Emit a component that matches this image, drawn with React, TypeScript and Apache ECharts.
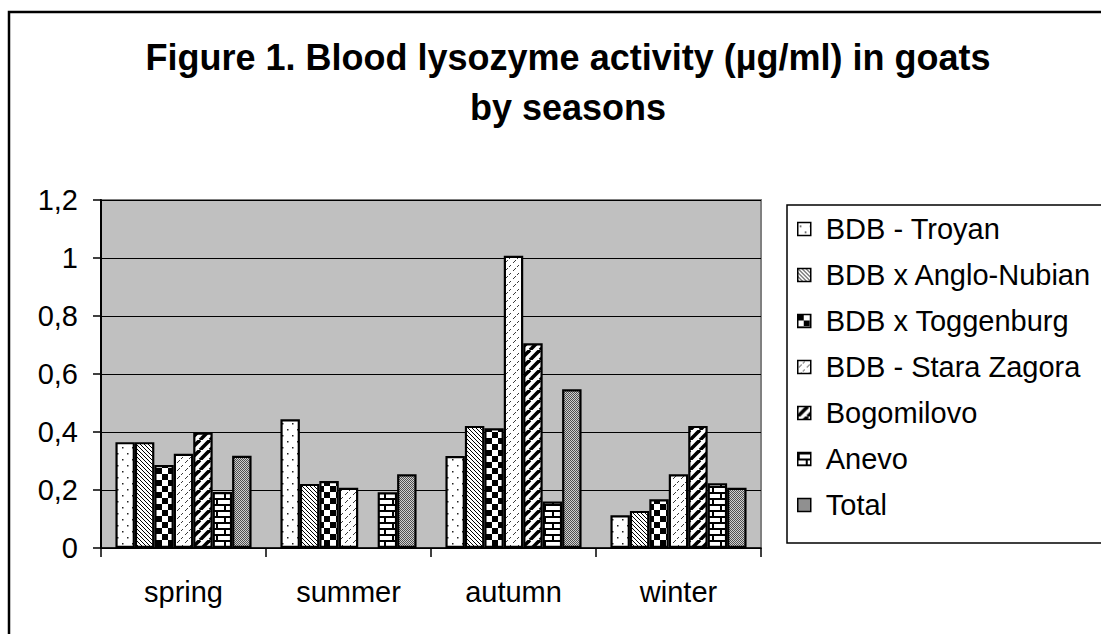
import React, { useEffect, useRef } from "react";
import * as echarts from "echarts";

const seasons = ["spring", "summer", "autumn", "winter"];
const seriesNames = [
  "BDB - Troyan",
  "BDB x Anglo-Nubian",
  "BDB x Toggenburg",
  "BDB - Stara Zagora",
  "Bogomilovo",
  "Anevo",
  "Total",
];
const troyan = [0.365, 0.444, 0.317, 0.113];
const angloNubian = [0.365, 0.221, 0.421, 0.128];
const toggenburg = [0.286, 0.231, 0.413, 0.168];
const staraZagora = [0.325, 0.208, 1.008, 0.254];
const bogomilovo = [0.398, null, 0.706, 0.421];
const anevo = [0.193, 0.192, 0.16, 0.223];
const total = [0.318, 0.254, 0.547, 0.208];
const seriesValues = [troyan, angloNubian, toggenburg, staraZagora, bogomilovo, anevo, total];
const yTicks = { min: 0, max: 1.2, interval: 0.2 };

function makeTile(w: number, h: number, draw: (ctx: CanvasRenderingContext2D) => void) {
  const c = document.createElement("canvas");
  c.width = w;
  c.height = h;
  const ctx = c.getContext("2d")!;
  ctx.fillStyle = "#ffffff";
  ctx.fillRect(0, 0, w, h);
  draw(ctx);
  return c;
}

function makePatterns() {
  const dots = makeTile(10, 12, (ctx) => {
    ctx.fillStyle = "#222";
    ctx.fillRect(2, 3, 1.5, 1.5);
    ctx.fillRect(7, 9, 1.5, 1.5);
  });
  const backslash = makeTile(4, 4, (ctx) => {
    ctx.fillStyle = "#000";
    for (let i = 0; i < 4; i++) ctx.fillRect(i, i, 1, 1);
  });
  const checker = makeTile(12, 12, (ctx) => {
    ctx.fillStyle = "#000";
    ctx.fillRect(0, 0, 6, 6);
    ctx.fillRect(6, 6, 6, 6);
  });
  const dashed = makeTile(8, 8, (ctx) => {
    ctx.fillStyle = "#3a3a3a";
    ctx.fillRect(1, 6, 1, 1);
    ctx.fillRect(2, 5, 1, 1);
    ctx.fillRect(3, 4, 1, 1);
    ctx.fillRect(5, 2, 1, 1);
    ctx.fillRect(6, 1, 1, 1);
  });
  const wide = makeTile(10, 10, (ctx) => {
    ctx.strokeStyle = "#000";
    ctx.lineWidth = 3.6;
    for (const o of [-10, 0, 10]) {
      ctx.beginPath();
      ctx.moveTo(o, 10);
      ctx.lineTo(o + 10, 0);
      ctx.stroke();
    }
  });
  const bricks = makeTile(16, 12, (ctx) => {
    ctx.fillStyle = "#000";
    ctx.fillRect(0, 0, 16, 2);
    ctx.fillRect(0, 6, 16, 2);
    ctx.fillRect(0, 0, 2, 6);
    ctx.fillRect(8, 6, 2, 6);
  });
  const stipple = makeTile(2, 2, (ctx) => {
    ctx.fillStyle = "#d0d0d0";
    ctx.fillRect(0, 0, 2, 2);
    ctx.fillStyle = "#505050";
    ctx.fillRect(0, 0, 1, 1);
    ctx.fillRect(1, 1, 1, 1);
  });
  return [dots, backslash, checker, dashed, wide, bricks, stipple];
}

export default function App() {
  const ref = useRef<HTMLDivElement>(null);
  useEffect(() => {
    if (!ref.current) return;
    const chart = echarts.init(ref.current, undefined, { renderer: "svg" });
    const tiles = makePatterns();
    const font = "'Liberation Sans', Arial, sans-serif";
    const option: any = {
      animation: false,
      backgroundColor: "#ffffff",
      title: {
        text: "Figure 1. Blood lysozyme activity (µg/ml) in goats\nby seasons",
        left: 563,
        top: 27,
        textAlign: "center",
        textStyle: {
          fontFamily: font,
          fontWeight: "bold",
          fontSize: 36,
          lineHeight: 50,
          color: "#000",
        },
      },
      graphic: [
        {
          type: "rect",
          shape: { x: 9, y: 12, width: 1200, height: 800 },
          style: { fill: "none", stroke: "#000", lineWidth: 2.5 },
          silent: true,
        },
      ],
      legend: {
        orient: "vertical",
        left: 787,
        top: 205,
        padding: [8, 100, 22, 10],
        itemGap: 14,
        itemWidth: 13,
        itemHeight: 13,
        icon: "rect",
        selectedMode: false,
        borderColor: "#000",
        borderWidth: 1.5,
        backgroundColor: "#fff",
        itemStyle: { borderColor: "#000", borderWidth: 1.5 },
        textStyle: {
          fontFamily: font,
          fontSize: 29,
          lineHeight: 32,
          color: "#000",
          padding: [0, 0, 0, 10],
        },
        data: seriesNames,
      },
      grid: {
        left: 101,
        right: 340,
        top: 200,
        bottom: 86,
        show: true,
        backgroundColor: "#C0C0C0",
        borderColor: "#808080",
        borderWidth: 2,
      },
      xAxis: {
        type: "category",
        data: seasons,
        axisLine: { show: true, lineStyle: { color: "#000", width: 1.5 } },
        axisTick: { show: true, length: 9, lineStyle: { color: "#000", width: 1.5 } },
        axisLabel: { fontFamily: font, fontSize: 29, color: "#000", margin: 29 },
        splitLine: { show: false },
      },
      yAxis: {
        type: "value",
        min: yTicks.min,
        max: yTicks.max,
        interval: yTicks.interval,
        axisLine: { show: true, lineStyle: { color: "#000", width: 2 } },
        axisTick: { show: true, length: 8, lineStyle: { color: "#000", width: 1.5 } },
        axisLabel: {
          fontFamily: font,
          fontSize: 29,
          color: "#000",
          margin: 23,
          formatter: (v: number) => String(Math.round(v * 10) / 10).replace(".", ","),
        },
        splitLine: { show: true, lineStyle: { color: "#000", width: 1 } },
      },
      series: seriesNames.map((name, i) => ({
        name,
        type: "bar",
        data: seriesValues[i],
        barGap: "0%",
        barCategoryGap: "17.5%",
        itemStyle: {
          color: { image: tiles[i], repeat: "repeat" },
          borderColor: "#000",
          borderWidth: 2.2,
        },
      })),
    };
    chart.setOption(option);
    return () => chart.dispose();
  }, []);
  return (
    <div
      ref={ref}
      style={{ position: "fixed", left: 0, top: 0, width: 1101, height: 634, background: "#fff" }}
    />
  );
}
